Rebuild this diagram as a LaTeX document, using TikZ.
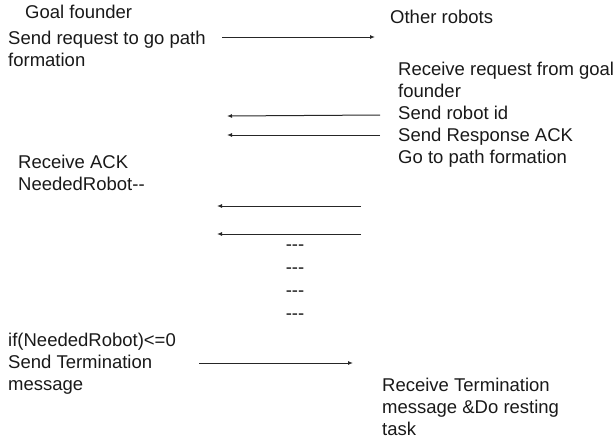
\documentclass[tikz,border=0pt]{standalone}
\usepackage{fontspec}
\setmainfont{Liberation Sans}
\usetikzlibrary{arrows.meta}
\begin{document}
\begin{tikzpicture}[x=1pt, y=-1pt,
        msg/.style={font=\fontsize{18.5}{22}\selectfont, text=black!90, align=left, anchor=base west, inner sep=0pt},
        gap/.style={font=\fontsize{18.5}{22}\selectfont, text=black!90, anchor=base, inner sep=0pt},
        link/.style={line width=1pt, black!85, -{Latex[length=5pt, width=4pt]}}]
    \useasboundingbox (0,0) rectangle (616,445);
    \node[msg] (founder) at (25,18) {Goal founder};
    \node[msg] (others) at (390,23) {Other robots};
    \node[msg] (request) at (8,66) {Send request to go path\\formation};
    \node[msg] (receive) at (398,163) {Receive request from goal\\founder\\Send robot id\\Send Response ACK\\Go to path formation};
    \node[msg] (ack) at (18,190) {Receive ACK\\NeededRobot-{}-};
    \node[msg] (check) at (8,390) {if(NeededRobot)<=0\\Send Termination\\message};
    \node[msg] (rest) at (382,435) {Receive Termination\\message \&Do resting\\task};
    \foreach \y/\name in {250/gapa, 273/gapb, 296/gapc, 319/gapd}
        \node[gap] (\name) at (295,\y) {-{}-{}-};
    \coordinate (reqs) at (222,37);
    \coordinate (reqe) at (375,37);
    \coordinate (ids) at (380,115);
    \coordinate (ide) at (227,116);
    \coordinate (resps) at (380,135);
    \coordinate (respe) at (227,135);
    \coordinate (acks) at (361,206);
    \coordinate (acke) at (217,206);
    \coordinate (ackbs) at (361,234);
    \coordinate (ackbe) at (217,234);
    \coordinate (terms) at (199,363);
    \coordinate (terme) at (353,363);
    \draw[link] (reqs) -- (reqe);
    \draw[link] (ids) -- (ide);
    \draw[link] (resps) -- (respe);
    \draw[link] (acks) -- (acke);
    \draw[link] (ackbs) -- (ackbe);
    \draw[link] (terms) -- (terme);
\end{tikzpicture}
\end{document}
